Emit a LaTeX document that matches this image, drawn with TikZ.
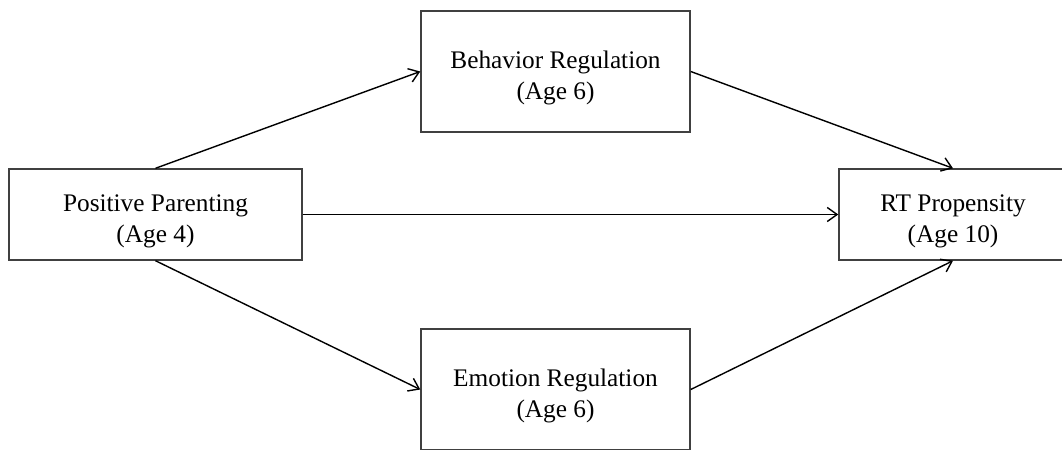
\documentclass[tikz,border=0pt]{standalone}
\usepackage{fontspec}
\setmainfont{Liberation Serif}
\usetikzlibrary{arrows.meta}
\tikzset{
    varbox/.style={draw=black!75,line width=1pt,fill=white,align=center,inner sep=0pt,
        text height=44pt,font=\fontsize{18}{22.5}\selectfont},
    path/.style={draw=black,line width=1pt,-{Straight Barb[length=7pt,width=10pt]}}
}
\begin{document}
\begin{tikzpicture}[x=0.025cm,y=-0.025cm]
        % Draw frame
        \path[use as bounding box,clip] (0,0) rectangle (1062,449);
        % Draw variables
        \node[varbox,minimum width=7.325cm,minimum height=2.275cm] (parenting) at (155.5,214.5) {Positive Parenting\\(Age 4)};
        \node[varbox,minimum width=6.725cm,minimum height=3.025cm] (behavior) at (555.5,71.5) {Behavior Regulation\\(Age 6)};
        \node[varbox,minimum width=6.725cm,minimum height=3.025cm] (emotion) at (555.5,389.5) {Emotion Regulation\\(Age 6)};
        \node[varbox,minimum width=5.7cm,minimum height=2.275cm] (propensity) at (953,214.5) {RT Propensity\\(Age 10)};
        % Draw paths
        \draw[path] (parenting.north) -- (behavior.west);
        \draw[path] (parenting.south) -- (emotion.west);
        \draw[path] (parenting.east) -- (propensity.west);
        \draw[path] (behavior.east) -- (propensity.north);
        \draw[path] (emotion.east) -- (propensity.south);
\end{tikzpicture}
\end{document}
